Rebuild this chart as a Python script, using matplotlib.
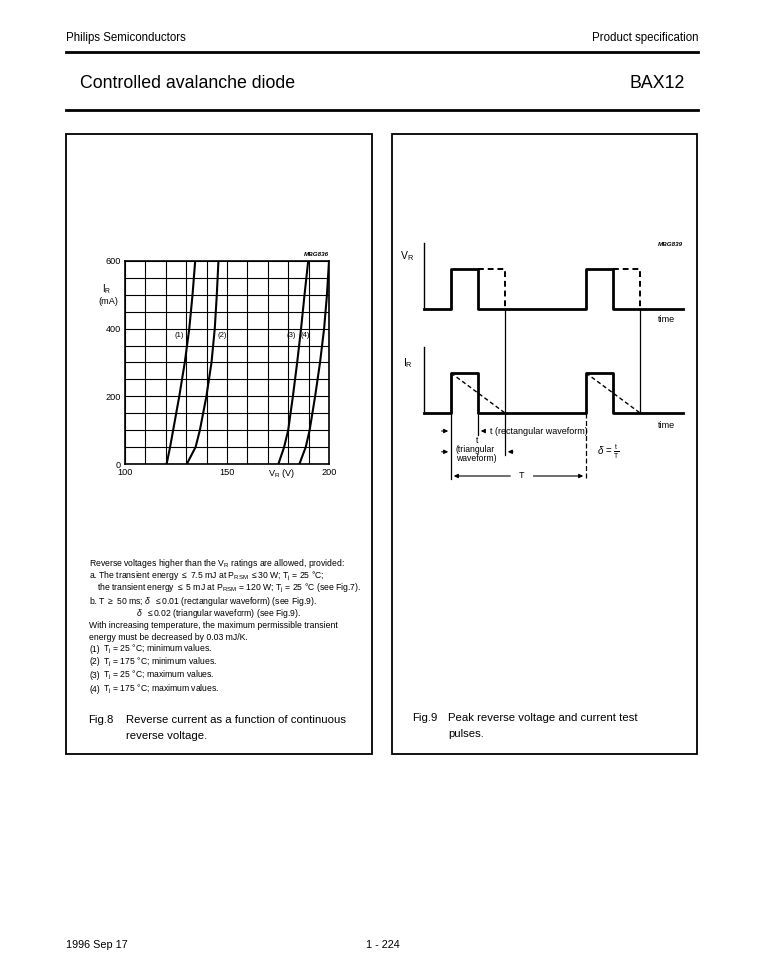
import matplotlib
matplotlib.use("Agg")
import matplotlib.pyplot as plt
from matplotlib.patches import Rectangle

plt.rcParams['font.family'] = ['Liberation Sans', 'DejaVu Sans']
plt.rcParams['mathtext.fontset'] = 'custom'
plt.rcParams['mathtext.rm'] = 'Liberation Sans'
plt.rcParams['mathtext.it'] = 'Liberation Sans:italic'

# Fig.8 data: reverse current (mA) vs reverse voltage (V)
i_ma = [0, 50, 100, 200, 300, 400, 500, 600]
v_curve1 = [120.4, 122.1, 123.6, 126.6, 129.3, 131.5, 133.1, 134.4]
v_curve2 = [130.3, 134.6, 136.7, 139.9, 142.4, 144.0, 145.0, 145.8]
v_curve3 = [175.2, 178.0, 180.0, 182.3, 184.4, 186.3, 188.0, 189.8]
v_curve4 = [185.5, 188.6, 190.5, 193.2, 195.6, 197.6, 199.0, 200.0]
curve_labels = ['(1)', '(2)', '(3)', '(4)']
label_v = [126.5, 147.5, 181.5, 188.5]
label_i = [380, 380, 380, 380]
x_ticks = [100, 150, 200]
y_ticks = [0, 200, 400, 600]

# Fig.9 data: pulse timing (arbitrary time units)
pulse_starts = [1.0, 6.0]
t_rect = 1.0
t_tri = 2.0
period = 5.0
t_end = 9.6
v_base, v_high = 2.6, 3.6
i_base, i_high = 0.0, 1.0

notes = [
    (89, 563, r'Reverse voltages higher than the V$_{\rm R}$ ratings are allowed, provided:'),
    (89, 576, r'a. The transient energy $\leq$ 7.5 mJ at P$_{\rm RSM}$ $\leq$30 W; T$_{\rm j}$ = 25 °C;'),
    (97, 588, r'the transient energy $\leq$ 5 mJ at P$_{\rm RSM}$ = 120 W; T$_{\rm j}$ = 25 °C (see Fig.7).'),
    (89, 601, r'b. T $\geq$ 50 ms; $\delta$  $\leq$0.01 (rectangular waveform) (see Fig.9).'),
    (136, 613, r'$\delta$  $\leq$0.02 (triangular waveform) (see Fig.9).'),
    (89, 626, 'With increasing temperature, the maximum permissible transient'),
    (89, 637, 'energy must be decreased by 0.03 mJ/K.'),
]
cond_lines = [
    ('(1)', r'T$_{\rm j}$ = 25 °C; minimum values.'),
    ('(2)', r'T$_{\rm j}$ = 175 °C; minimum values.'),
    ('(3)', r'T$_{\rm j}$ = 25 °C; maximum values.'),
    ('(4)', r'T$_{\rm j}$ = 175 °C; maximum values.'),
]
cond_y = [649, 662, 675, 689]

W, H = 772, 967
fig = plt.figure(figsize=(W / 100, H / 100), dpi=100)

# page overlay in pixel coordinates
page = fig.add_axes([0, 0, 1, 1])
page.set_xlim(0, W)
page.set_ylim(H, 0)
page.axis('off')

page.text(66, 38, 'Philips Semiconductors', fontsize=8.3, va='center', ha='left')
page.text(698, 38, 'Product specification', fontsize=8.3, va='center', ha='right')
page.plot([66, 698], [52, 52], color='k', lw=2)
page.text(80, 84, 'Controlled avalanche diode', fontsize=12.8, va='center', ha='left')
page.text(685, 84, 'BAX12', fontsize=12.8, va='center', ha='right')
page.plot([66, 698], [110, 110], color='k', lw=2)

page.add_patch(Rectangle((66, 134), 306, 620, fill=False, lw=1.3, ec='k'))
page.add_patch(Rectangle((392, 134), 305, 620, fill=False, lw=1.3, ec='k'))

for x, y, s in notes:
    page.text(x, y, s, fontsize=6.2, va='center', ha='left')
for (tag, s), y in zip(cond_lines, cond_y):
    page.text(89, y, tag, fontsize=6.2, va='center', ha='left')
    page.text(103, y, s, fontsize=6.2, va='center', ha='left')

page.text(88, 720, 'Fig.8', fontsize=8.2, va='center', ha='left')
page.text(126, 720, 'Reverse current as a function of continuous', fontsize=8.2, va='center', ha='left')
page.text(126, 736, 'reverse voltage.', fontsize=8.2, va='center', ha='left')
page.text(412, 718, 'Fig.9', fontsize=8.2, va='center', ha='left')
page.text(448, 718, 'Peak reverse voltage and current test', fontsize=8.2, va='center', ha='left')
page.text(448, 734, 'pulses.', fontsize=8.2, va='center', ha='left')

page.text(66, 945, '1996 Sep 17', fontsize=7.8, va='center', ha='left')
page.text(366, 945, '1 - 224', fontsize=7.8, va='center', ha='left')

# Fig.8 chart
ax = fig.add_axes([125 / W, 1 - 464 / H, 204 / W, 203 / H])
for v in [v_curve1, v_curve2, v_curve3, v_curve4]:
    ax.plot(v, i_ma, color='k', lw=1.5)
for lab, lv, li in zip(curve_labels, label_v, label_i):
    ax.text(lv, li, lab, fontsize=5.5, ha='center', va='center')
ax.set_xlim(100, 200)
ax.set_ylim(0, 600)
ax.set_xticks(x_ticks)
ax.set_yticks(y_ticks)
ax.set_xticks(range(100, 201, 10), minor=True)
ax.set_yticks(range(0, 601, 50), minor=True)
ax.grid(which='both', color='k', lw=0.8)
ax.tick_params(which='both', length=0, labelsize=6.6, pad=3)
ax.set_xticklabels(['100', '150', '200'])
for s in ax.spines.values():
    s.set_linewidth(1.2)
page.text(282, 473, r'V$_{\rm R}$ (V)', fontsize=6.6, ha='center', va='center')
page.text(107, 289, r'I$_{\rm R}$', fontsize=7, ha='center', va='center')
page.text(108, 301, '(mA)', fontsize=6.6, ha='center', va='center')
page.text(329, 254, 'MBG836', fontsize=4.5, ha='right', va='center',
          fontweight='bold', style='italic')

# Fig.9 waveforms
bx = fig.add_axes([397 / W, 1 - 500 / H, 300 / W, 265 / H])
bx.set_xlim(-1.0, 10.11)
bx.set_ylim(-2.175, 4.45)
bx.axis('off')

def pulse_trace(base, high):
    xs, ys = [0.0], [base]
    for p in pulse_starts:
        xs += [p, p, p + t_rect, p + t_rect]
        ys += [base, high, high, base]
    xs.append(t_end)
    ys.append(base)
    return xs, ys

xs, ys = pulse_trace(v_base, v_high)
bx.plot(xs, ys, color='k', lw=2.0)
xs, ys = pulse_trace(i_base, i_high)
bx.plot(xs, ys, color='k', lw=2.0)
bx.plot([0, 0], [v_base, 4.25], color='k', lw=1.0)
bx.plot([0, 0], [i_base, 1.65], color='k', lw=1.0)

for p in pulse_starts:
    # dashed extension for the V_R pulse (triangular length)
    bx.plot([p + t_rect, p + t_tri, p + t_tri], [v_high, v_high, v_base],
            color='k', lw=1.4, ls=(0, (3, 2)))
    # dashed triangular current waveform
    bx.plot([p, p + t_tri], [i_high, i_base], color='k', lw=1.0, ls=(0, (3, 2)))

# extension lines
p0 = pulse_starts[0]
p1 = pulse_starts[1]
bx.plot([p0 + t_tri] * 2, [v_base, -1.05], color='k', lw=0.9)
bx.plot([p1 + t_tri] * 2, [v_base, i_base], color='k', lw=0.9)
bx.plot([p0] * 2, [i_base, -1.65], color='k', lw=0.9)
bx.plot([p1] * 2, [i_base, -1.65], color='k', lw=0.9, ls=(0, (4, 2)))
bx.plot([p0 + t_rect] * 2, [i_base, -0.55], color='k', lw=0.9)

arrow = dict(arrowstyle='-|>', lw=0.8, color='k', mutation_scale=6)
y_rect, y_tri, y_per = -0.45, -0.97, -1.575
bx.annotate('', xy=(p0, y_rect), xytext=(p0 - 0.45, y_rect), arrowprops=arrow)
bx.annotate('', xy=(p0 + t_rect, y_rect), xytext=(p0 + t_rect + 0.35, y_rect), arrowprops=arrow)
bx.text(p0 + t_rect + 0.45, y_rect, 't (rectangular waveform)', fontsize=6.5, va='center', ha='left')
bx.annotate('', xy=(p0, y_tri), xytext=(p0 - 0.45, y_tri), arrowprops=arrow)
bx.annotate('', xy=(p0 + t_tri, y_tri), xytext=(p0 + t_tri + 0.4, y_tri), arrowprops=arrow)
bx.text(1.95, -0.68, 't', fontsize=6.3, va='center', ha='center')
bx.text(1.15, -0.9, '(triangular', fontsize=6.2, va='center', ha='left')
bx.text(1.2, -1.14, 'waveform)', fontsize=6.2, va='center', ha='left')
bx.annotate('', xy=(p0, y_per), xytext=(p0 + period / 2 - 0.2, y_per), arrowprops=arrow)
bx.annotate('', xy=(p1, y_per), xytext=(p0 + period / 2 + 0.45, y_per), arrowprops=arrow)
bx.text(p0 + period / 2 + 0.12, y_per, 'T', fontsize=6.5, va='center', ha='center')
bx.text(6.4, y_tri, r'$\delta$ = $\frac{\rm t}{\rm T}$', fontsize=7, va='center', ha='left')

bx.text(-0.62, 3.92, r'V$_{\rm R}$', fontsize=7.5, va='center', ha='center')
bx.text(-0.6, 1.25, r'I$_{\rm R}$', fontsize=7.5, va='center', ha='center')
bx.text(8.65, 2.33, 'time', fontsize=6.5, va='center', ha='left')
bx.text(8.65, -0.3, 'time', fontsize=6.5, va='center', ha='left')
page.text(683, 244, 'MBG839', fontsize=4.5, ha='right', va='center',
          fontweight='bold', style='italic')

fig.savefig('out.png', dpi=100)
